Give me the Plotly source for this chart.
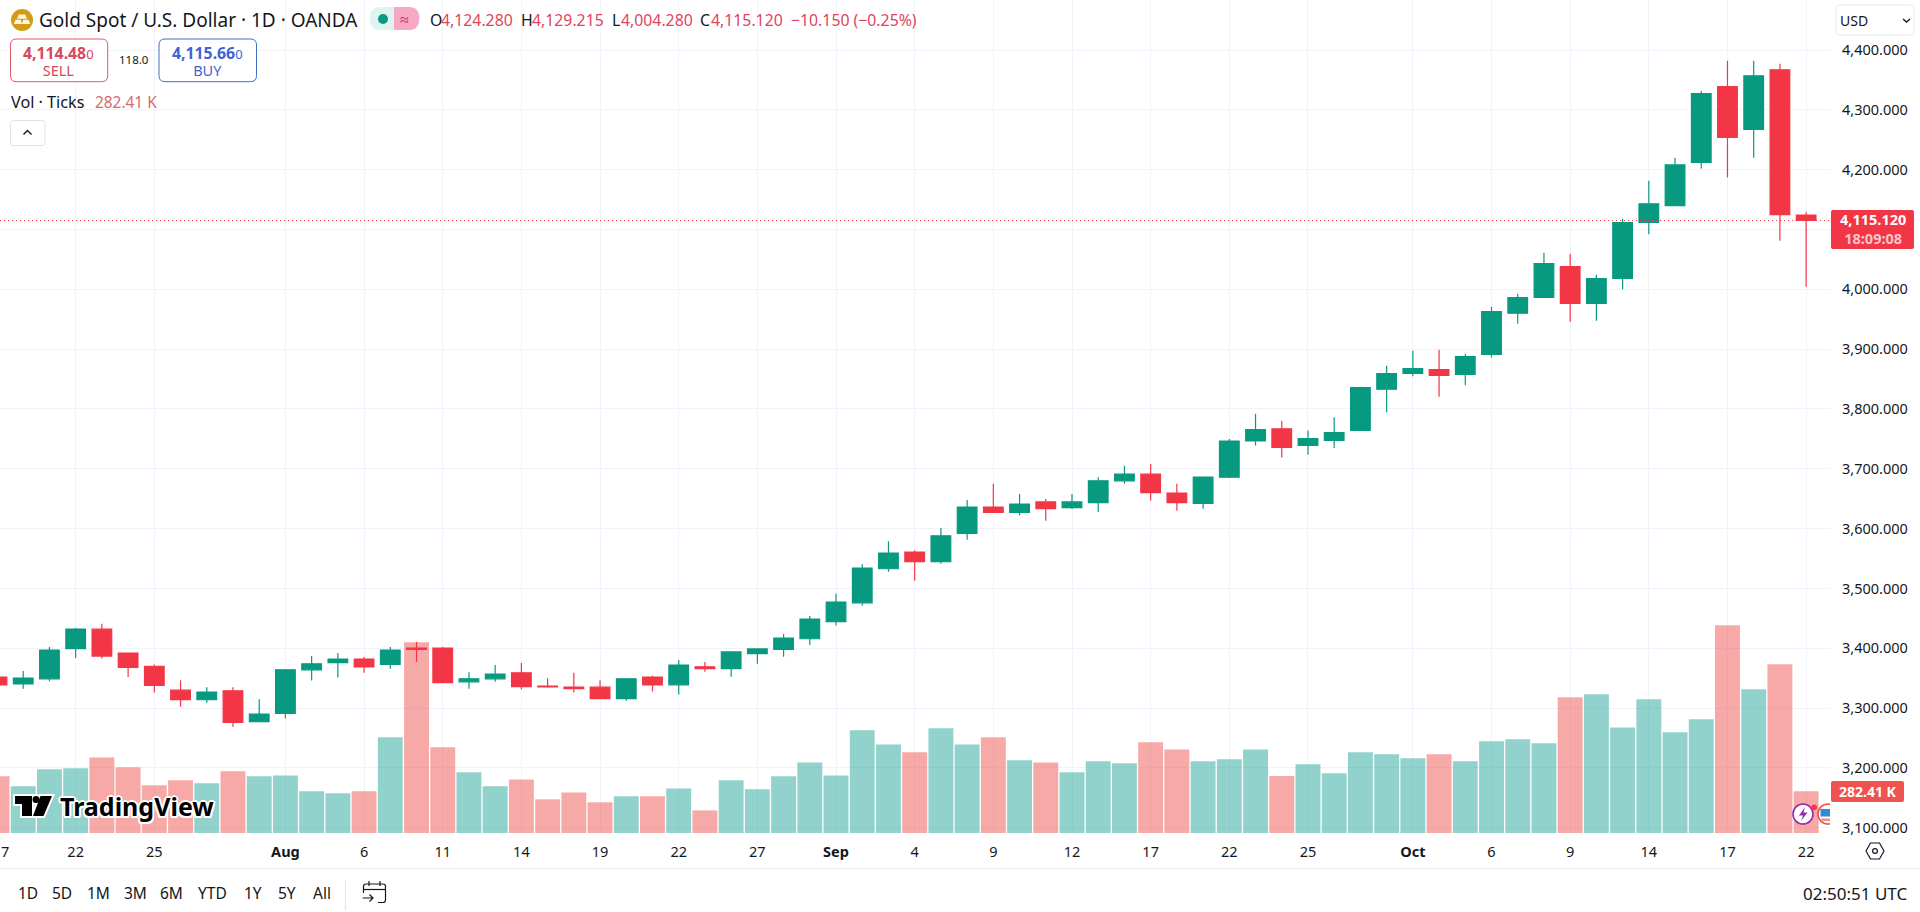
import plotly.graph_objects as go

dates = ["2025-07-17","2025-07-18","2025-07-21","2025-07-22","2025-07-23","2025-07-24","2025-07-25",
"2025-07-28","2025-07-29","2025-07-30","2025-07-31","2025-08-01","2025-08-04","2025-08-05","2025-08-06","2025-08-07","2025-08-08",
"2025-08-11","2025-08-12","2025-08-13","2025-08-14","2025-08-15","2025-08-18","2025-08-19","2025-08-20","2025-08-21","2025-08-22",
"2025-08-25","2025-08-26","2025-08-27","2025-08-28","2025-08-29","2025-09-01","2025-09-02","2025-09-03","2025-09-04","2025-09-05",
"2025-09-08","2025-09-09","2025-09-10","2025-09-11","2025-09-12","2025-09-15","2025-09-16","2025-09-17","2025-09-18","2025-09-19",
"2025-09-22","2025-09-23","2025-09-24","2025-09-25","2025-09-26","2025-09-29","2025-09-30","2025-10-01","2025-10-02","2025-10-03",
"2025-10-06","2025-10-07","2025-10-08","2025-10-09","2025-10-10","2025-10-13","2025-10-14","2025-10-15","2025-10-16","2025-10-17",
"2025-10-20","2025-10-21","2025-10-22"]
opens = [3352,3340.4,3349,3399.5,3432,3392,3370,3330,3314,3329,3277.5,3291,3364,3376,3382,3373,3400.5,3400.5,3344,3349,3359,3337,3335,3335,3316,3352,3339,3369,3366,3391,3398,3416,3444.6,3476,3533,3561,3545,3592,3636,3627,3644.6,3635,3643.5,3680,3691,3659.6,3642,3686,3746.5,3767,3739,3747.6,3764.3,3833,3859.6,3865.7,3858,3891.4,3960,3986.6,4038,3976.6,4018.4,4112,4140,4212,4338.7,4267.4,4367,4124.28]
highs = [3356,3362,3402,3434,3441,3393,3373,3346.5,3335,3335,3315,3364,3387,3392,3385.5,3402,3410.6,3402,3360,3372,3375.5,3350,3359,3346.5,3350,3354,3380.5,3377,3394,3399,3424,3454,3491,3541,3579,3564,3601,3648,3675,3658,3649.6,3658,3686,3705,3708,3675,3686,3750,3792,3780.5,3764,3786,3835.6,3872.4,3897.5,3899,3892.5,3971,3992.8,4061,4059.6,4024.5,4118,4181.6,4220,4332,4382,4382,4377,4129.215]
lows = [3333,3332.6,3345,3384,3383,3352,3326,3302.5,3309,3269,3277,3282.5,3346,3351,3359,3366,3377,3342,3332.6,3344,3331,3334,3326,3316,3312.5,3327.6,3322.6,3361,3352.6,3374,3386,3405.6,3438,3471,3528,3513,3541.5,3581.6,3627,3622,3613,3633,3628,3675,3647,3630,3633.4,3684.6,3739,3719,3723.7,3735,3764,3794.4,3854.6,3820.6,3839.6,3886,3942.6,3986,3946,3947.6,4000,4092,4140,4202,4187,4220,4081,4004.28]
closes = [3339,3350.4,3397,3432,3387,3368,3338,3314,3327,3276,3290,3364,3374,3382,3369,3397,3398,3342.6,3349,3357,3336,3335.4,3332.6,3316,3349,3339,3372,3366,3394,3399,3417,3449,3477.4,3534,3559,3545,3588,3636,3627,3641,3633.4,3644.6,3680,3691,3660,3643.5,3686,3746.5,3765.5,3736,3750.4,3760.4,3835.6,3859,3867.4,3856,3887.5,3962.7,3986,4043,3976.6,4018,4111.4,4143,4208,4327,4254,4357,4125,4115.12]
volumes_k = [384,316,431,438,512,445,323,357,336,418,384,390,282,269,282,648,1291,580,411,316,363,228,275,208,248,248,302,153,357,296,384,478,390,695,600,546,709,600,648,492,478,411,485,472,614,566,485,499,566,386,465,404,546,533,506,533,485,621,634,607,919,939,715,905,682,770,1406,973,1142,282.41]

tick_dates = ["2025-07-22","2025-07-25","2025-08-01","2025-08-06","2025-08-11","2025-08-14","2025-08-19","2025-08-22","2025-08-27","2025-09-01","2025-09-04","2025-09-09","2025-09-12","2025-09-17","2025-09-22","2025-09-25","2025-10-01","2025-10-06","2025-10-09","2025-10-14","2025-10-17","2025-10-22"]
tick_labels = ["22","25","<b>Aug</b>","6","11","14","19","22","27","<b>Sep</b>","4","9","12","17","22","25","<b>Oct</b>","6","9","14","17","22"]
price_ticks = [3100,3200,3300,3400,3500,3600,3700,3800,3900,4000,4100,4200,4300,4400]
price_tick_labels = ["3,100.000","3,200.000","3,300.000","3,400.000","3,500.000","3,600.000","3,700.000","3,800.000","3,900.000","4,000.000","","4,200.000","4,300.000","4,400.000"]
range_labels = ["1D","5D","1M","3M","6M","YTD","1Y","5Y","All"]

FONT = "Noto Sans"
INK = "#131722"
UP = "#089981"
DOWN = "#F23645"
GRID = "#F0F3FA"
W, H = 1920, 912
PW, PH = 1830, 833

def px(x): return x / PW
def py(y): return (PH - y) / PH

vol_colors = ["rgba(38,166,154,0.5)" if c >= o else "rgba(239,83,80,0.5)" for o, c in zip(opens, closes)]

fig = go.Figure()
fig.add_bar(x=dates, y=volumes_k, marker=dict(color=vol_colors, line_width=0), yaxis="y", hoverinfo="skip", showlegend=False)
fig.add_candlestick(x=dates, open=opens, high=highs, low=lows, close=closes, yaxis="y2", showlegend=False, hoverinfo="skip",
    increasing=dict(line=dict(color=UP, width=1.2), fillcolor=UP),
    decreasing=dict(line=dict(color=DOWN, width=1.2), fillcolor=DOWN), whiskerwidth=0)

shapes, anns = [], []

def text(x, y, s, size=14.5, color=INK, anchor="left", family=FONT, shadow=None):
    f = dict(family=family, size=size, color=color)
    if shadow: f["shadow"] = shadow
    anns.append(dict(x=px(x), y=py(y), xref="paper", yref="paper", text=s, showarrow=False,
                     xanchor=anchor, yanchor="middle", font=f, align="center" if anchor == "center" else "left",
                     borderpad=0, borderwidth=0))

def pathstr(cmds):
    out = []
    for c in cmds:
        if c == "Z":
            out.append("Z")
        else:
            op = c[0]
            pts = c[1:]
            out.append(op + " ".join(f"{px(pts[i]):.6f},{py(pts[i+1]):.6f}" for i in range(0, len(pts), 2)))
    return " ".join(out)

def path(cmds, fill=None, line=None, lw=1):
    shapes.append(dict(type="path", xref="paper", yref="paper", path=pathstr(cmds),
                       fillcolor=fill or "rgba(0,0,0,0)",
                       line=dict(color=line or "rgba(0,0,0,0)", width=lw if line else 0)))

def rrect(x0, y0, x1, y1, r, fill=None, line=None, lw=1):
    path([("M", x0+r, y0), ("L", x1-r, y0), ("Q", x1, y0, x1, y0+r), ("L", x1, y1-r), ("Q", x1, y1, x1-r, y1),
          ("L", x0+r, y1), ("Q", x0, y1, x0, y1-r), ("L", x0, y0+r), ("Q", x0, y0, x0+r, y0), "Z"], fill, line, lw)

def circle(cx, cy, r, fill=None, line=None, lw=1):
    shapes.append(dict(type="circle", xref="paper", yref="paper", x0=px(cx-r), x1=px(cx+r), y0=py(cy+r), y1=py(cy-r),
                       fillcolor=fill or "rgba(0,0,0,0)", line=dict(color=line or "rgba(0,0,0,0)", width=lw if line else 0)))

def hline(x0, x1, y, color, lw=1):
    path([("M", x0, y), ("L", x1, y)], None, color, lw)

# last price line
shapes.append(dict(type="line", xref="paper", yref="y2", x0=0, x1=1, y0=closes[-1], y1=closes[-1],
                   line=dict(color=DOWN, width=1, dash="1px,3px")))

# header
circle(22, 20, 11, "#D49B16")
path([("M", 18.8, 14.5), ("L", 25.2, 14.5), ("L", 27, 18.8), ("L", 17, 18.8), "Z"], "#FFF6DC")
path([("M", 15.5, 19.8), ("L", 20.8, 19.8), ("L", 22, 24), ("L", 13.8, 24), "Z"], "#FFF6DC")
path([("M", 23.2, 19.8), ("L", 28.5, 19.8), ("L", 30.2, 24), ("L", 22, 24), "Z"], "#FFF6DC")
text(39, 20, "Gold Spot / U.S. Dollar · 1D · OANDA", 19)
rrect(370, 7, 420, 30, 11, "#DFF3F0")
path([("M", 394, 7), ("L", 409, 7), ("Q", 419, 7, 419, 18.5), ("Q", 419, 30, 409, 30), ("L", 394, 30), "Z"], "#F7A8C4")
circle(383, 19, 5, UP)
text(404, 19, "≈", 16, "#C2185B", "center")
RED_T = "#E0445C"
for lx, lab, vx, val in [(430, "O", 441, "4,124.280"), (520.5, "H", 532, "4,129.215"), (612, "L", 621, "4,004.280"), (700, "C", 711, "4,115.120")]:
    text(lx, 20, lab, 15.8)
    text(vx, 20, val, 15.8, RED_T)
text(790.6, 20, "−10.150 (−0.25%)", 15.8, RED_T)

# sell/buy
SELL_T, SELL_B = "#D9475A", "#DE5A66"
BUY_T, BUY_B = "#3D63D6", "#3F6FC4"
def quote(cx, value, tail, label, color):
    text(cx, 60.6, f"<span style='font-size:15.8px'><b>{value}</b></span><span style='font-size:13px'>{tail}</span><br>"
                   f"<span style='font-size:14.5px'>{label}</span>", 13.1, color, "center")
rrect(10.5, 39, 107.7, 81.7, 6, "#FFFFFF", SELL_B, 1)
quote(59, "4,114.48", "0", "SELL", SELL_T)
text(133.5, 60, "118.0", 11.5, INK, "center")
rrect(159, 39, 256.5, 81.7, 6, "#FFFFFF", BUY_B, 1)
quote(207.5, "4,115.66", "0", "BUY", BUY_T)

text(11, 102, "Vol · Ticks", 16.2)
text(95, 102, "282.41 K", 15.4, "#D9686A")
rrect(10.5, 120.5, 45, 145.5, 3, "#FFFFFF", "#E0E3EB", 1)
path([("M", 23.5, 134.5), ("L", 27.5, 130.5), ("L", 31.5, 134.5)], None, INK, 1.4)

# USD selector
rrect(1836, 5, 1914, 35, 4, "#FFFFFF", "#E8EAEF", 1)
text(1840, 20.5, "USD", 14, INK)
path([("M", 1903, 19), ("L", 1906.5, 22), ("L", 1910, 19)], None, INK, 1.4)

# event icons (under the axis mask and tags)
circle(1803, 814, 10, "#FFFFFF", "#9C27B0", 1.6)
path([("M", 1805, 807), ("L", 1799, 815.5), ("L", 1803, 815.5), ("L", 1801, 821), ("L", 1807.5, 812.5), ("L", 1803.5, 812.5), "Z"], "#9C27B0")
circle(1814.3, 807.3, 2.8, DOWN)
circle(1828, 814, 10, "#FFFFFF", "#EF5350", 1.6)
path([("M", 1820.5, 809), ("L", 1831, 809), ("L", 1831, 816.5), ("L", 1820.5, 816.5), "Z"], "#2E8BD8")
path([("M", 1820.5, 818.5), ("L", 1831, 818.5), ("L", 1831, 821), ("L", 1822.5, 821), "Z"], "#F28B82")
path([("M", 1830, 802.5), ("L", 1840, 802.5), ("L", 1840, 830), ("L", 1830, 830), "Z"], "#FFFFFF")

# price + volume tags
rrect(1831, 210, 1914, 249, 2, DOWN)
text(1872.5, 229, "<b>4,115.120</b><br><span style='color:#FBC4CB'><b>18:09:08</b></span>", 14.5, "#FFFFFF", "center")
rrect(1831, 781, 1904, 802, 2, "#EF5350")
text(1867.5, 791.5, "<b>282.41 K</b>", 14, "#FFFFFF", "center")

# watermark
halo = "1.5px 1.5px 0 #fff,-1.5px -1.5px 0 #fff,1.5px -1.5px 0 #fff,-1.5px 1.5px 0 #fff,0 2px 0 #fff,0 -2px 0 #fff,2px 0 0 #fff,-2px 0 0 #fff"
logo_T = [("M", 15, 796), ("L", 32, 796), ("L", 32, 816), ("L", 22, 816), ("L", 22, 804), ("L", 15, 804), "Z"]
logo_S = [("M", 40.5, 796), ("L", 52, 796), ("L", 43.5, 816), ("L", 33, 816), "Z"]
for cm in (logo_T, logo_S):
    path(cm, "#FFFFFF", "#FFFFFF", 4)
circle(36, 799.5, 5.5, "#FFFFFF")
path(logo_T, "#000000")
path(logo_S, "#000000")
circle(36, 799.5, 3.5, "#000000")
text(60, 806, "<b>TradingView</b>", 25, "#000000", shadow=halo)

# x stub, time axis rule, toolbar
text(0.6, 851, "7", 14.5, INK, "left")
hline(0, 1920, 868.3, "#E8EAEF", 1)
for cx, lab in zip([27.8, 62.4, 98.8, 135, 171.4, 212.7, 252.7, 286.5, 321.6], range_labels):
    text(cx, 893, lab, 15.5, INK, "center")
path([("M", 345.3, 880), ("L", 345.3, 910)], None, "#E0E3EB", 1)
path([("M", 378, 902.5), ("L", 383, 902.5), ("Q", 385.5, 902.5, 385.5, 900), ("L", 385.5, 886.5), ("Q", 385.5, 884, 383, 884),
      ("L", 366, 884), ("Q", 363.5, 884, 363.5, 886.5), ("L", 363.5, 893)], None, INK, 1.2)
hline(363.5, 385.5, 889.5, INK, 1.2)
path([("M", 369, 881), ("L", 369, 886)], None, INK, 1.2)
path([("M", 380, 881), ("L", 380, 886)], None, INK, 1.2)
path([("M", 362.5, 898), ("L", 373, 898), ("M", 369.5, 894.5), ("L", 373, 898), ("L", 369.5, 901.5)], None, INK, 1.2)
text(1907, 893, "02:50:51 UTC", 17, INK, "right")

# settings hexagon
path([("M", 1866, 851), ("L", 1870.5, 843), ("L", 1879.5, 843), ("L", 1884, 851), ("L", 1879.5, 859), ("L", 1870.5, 859), "Z"], None, INK, 1.2)
circle(1875, 851, 2.4, None, INK, 1.2)

fig.update_layout(
    width=W, height=H, autosize=False, paper_bgcolor="#FFFFFF", plot_bgcolor="#FFFFFF",
    margin=dict(l=0, r=W - PW, t=0, b=H - PH, pad=0), showlegend=False, hovermode=False,
    boxgap=0.25, boxgroupgap=0, bargap=0.05, dragmode=False,
    font=dict(family=FONT, size=14.5, color=INK),
    xaxis=dict(type="category", categoryorder="array", categoryarray=dates, range=[0.114, 69.91],
               tickmode="array", tickvals=tick_dates, ticktext=tick_labels, ticks="", showline=False,
               showgrid=True, gridcolor=GRID, gridwidth=1, zeroline=False, rangeslider=dict(visible=False),
               tickangle=0, tickfont=dict(family=FONT, size=14.5, color=INK), ticklabelstandoff=8),
    yaxis=dict(range=[0, 5640], showgrid=False, showticklabels=False, zeroline=False, showline=False, ticks=""),
    yaxis2=dict(overlaying="y", side="right", range=[3091.3, 4483.6], tickmode="array", tickvals=price_ticks,
                ticktext=price_tick_labels, showgrid=True, gridcolor=GRID, gridwidth=1, zeroline=False, showline=False,
                ticks="", tickfont=dict(family=FONT, size=14.5, color=INK), ticklabelstandoff=11),
    shapes=shapes, annotations=anns,
)

fig.write_html("out.html", config={"displayModeBar": False, "staticPlot": True},
               post_script="document.body.style.margin='0';document.documentElement.style.overflow='hidden';")
